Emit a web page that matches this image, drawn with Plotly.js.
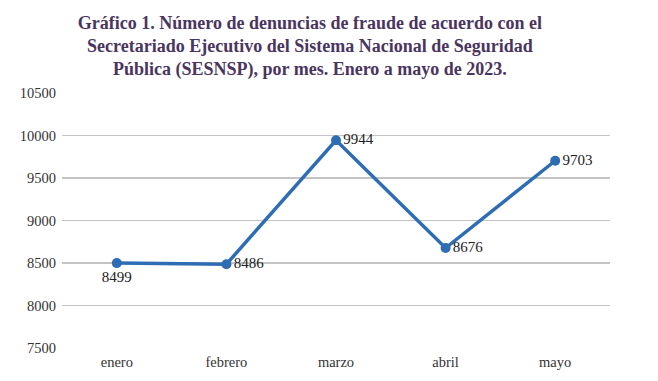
<!DOCTYPE html>
<html><head><meta charset="utf-8">
<script src="https://cdn.plot.ly/plotly-3.0.1.min.js"></script>
<style>html,body{margin:0;padding:0;background:#fff}</style>
</head><body><div id="chart" style="width:658px;height:381px"></div>
<script>
const months = ["enero", "febrero", "marzo", "abril", "mayo"];
const denuncias = [8499, 8486, 9944, 8676, 9703];
const labelPositions = ["bottom center", "middle right", "middle right", "middle right", "middle right"];
const yTicks = [7500, 8000, 8500, 9000, 9500, 10000, 10500];

const serif = "Liberation Serif, DejaVu Serif, serif";
const trace = {
  x: months, y: denuncias, type: "scatter", mode: "lines+markers+text",
  text: denuncias.map(String), textposition: labelPositions,
  textfont: {family: serif, size: 15, color: "#222"},
  line: {color: "#2e6db4", width: 3.5},
  marker: {color: "#2e6db4", size: 10},
  cliponaxis: false, hoverinfo: "none"
};
const layout = {
  width: 658, height: 381,
  margin: {l: 62, r: 48, t: 93, b: 33},
  paper_bgcolor: "#fff", plot_bgcolor: "#fff",
  showlegend: false,
  title: {
    text: "Gráfico 1. Número de denuncias de fraude de acuerdo con el<br>Secretariado Ejecutivo del Sistema Nacional de Seguridad<br>Pública (SESNSP), por mes. Enero a mayo de 2023.",
    font: {family: serif, size: 18, color: "#4a3560", weight: "bold"},
    x: 0.471, xanchor: "center", xref: "container",
    y: 0.925, yanchor: "top", yref: "container"
  },
  xaxis: {
    type: "category", range: [-0.5, 4.5], showgrid: false, zeroline: false, showline: false,
    ticks: "", ticklabelstandoff: 3, tickfont: {family: serif, size: 14.5, color: "#333"},
    fixedrange: true
  },
  yaxis: {
    range: [7500, 10500], tickvals: yTicks, ticktext: yTicks.map(String),
    showgrid: true, gridcolor: "#c4c4c4", gridwidth: 1.3, zeroline: false, showline: false,
    ticks: "", ticklabelstandoff: 5,
    tickfont: {family: serif, size: 14.5, color: "#333"},
    fixedrange: true
  }
};
Plotly.newPlot("chart", [trace], layout, {staticPlot: true, displayModeBar: false});
</script></body></html>
